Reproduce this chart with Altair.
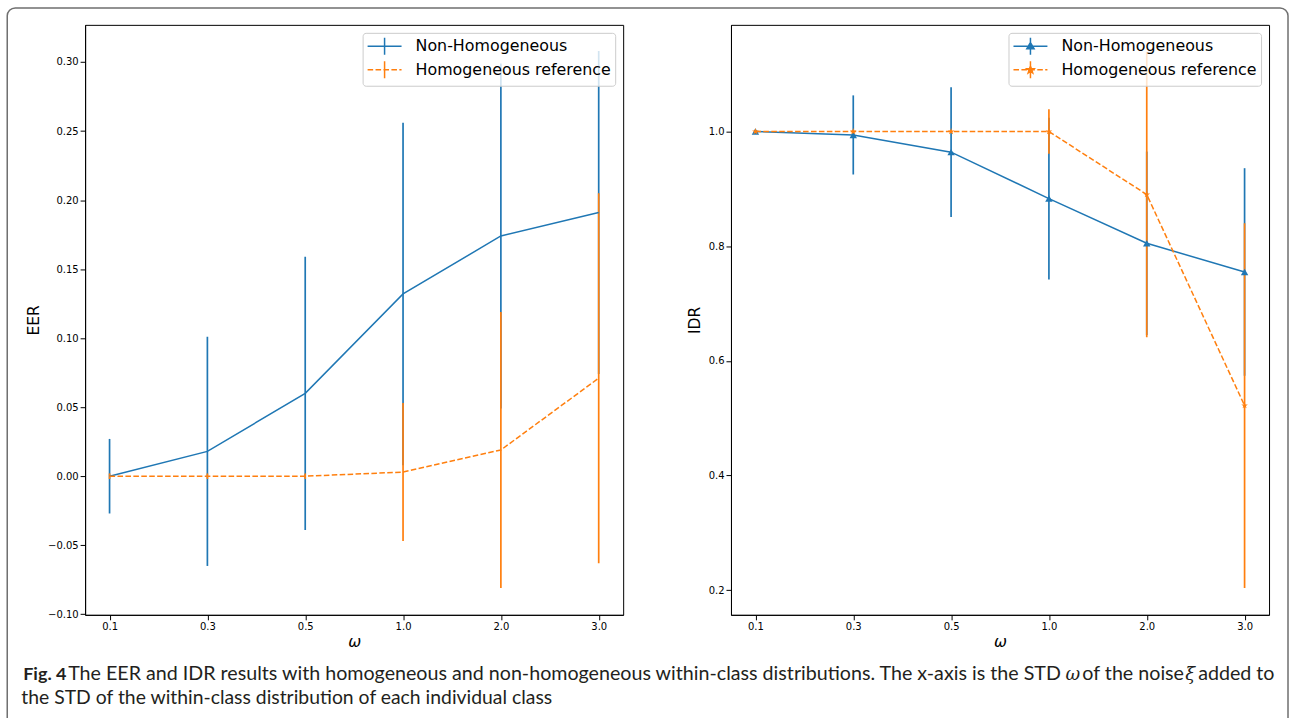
import json
import math
import altair as alt
import pandas as pd

# ---------------- data ----------------
omega_labels = ["0.1", "0.3", "0.5", "1.0", "2.0", "3.0"]
series_names = ["Non-Homogeneous", "Homogeneous reference"]

eer_nonhom = [0.000, 0.018, 0.060, 0.132, 0.174, 0.191]
eer_nonhom_err = [0.027, 0.083, 0.099, 0.124, 0.125, 0.117]
eer_hom = [0.000, 0.000, 0.000, 0.003, 0.019, 0.071]
eer_hom_err = [0.002, 0.002, 0.002, 0.050, 0.100, 0.134]

idr_nonhom = [1.000, 0.994, 0.964, 0.883, 0.805, 0.755]
idr_nonhom_err = [0.003, 0.069, 0.113, 0.141, 0.160, 0.181]
idr_hom = [1.000, 1.000, 1.000, 1.000, 0.890, 0.522]
idr_hom_err = [0.002, 0.002, 0.002, 0.039, 0.249, 0.318]

eer_ticks = [-0.10, -0.05, 0.00, 0.05, 0.10, 0.15, 0.20, 0.25, 0.30]
idr_ticks = [0.2, 0.4, 0.6, 0.8, 1.0]

caption_bold = "Fig. 4"
caption_a = ("The EER and IDR results with homogeneous and non-homogeneous within-class "
             "distributions. The x-axis is the STD")
caption_omega = "\u03c9"
caption_b = "of the noise"
caption_xi = "\u03be"
caption_c = "added to"
caption_line2 = "the STD of the within-class distribution of each individual class"

# ---------------- styles ----------------
BLUE = "#1f77b4"
ORANGE = "#ff7f0e"
DASH = [5.55, 2.4]
FONT = "DejaVu Sans"
CAP_FONT = "Lato"
CAP_SIZE = 19.7
CAP_COLOR = "#231f20"


def star_path(r, ri_ratio=0.4):
    pts = []
    for k in range(10):
        ang = math.radians(-90 + 36 * k)
        rr = r if k % 2 == 0 else r * ri_ratio
        pts.append((rr * math.cos(ang), rr * math.sin(ang)))
    return "M" + "L".join(f"{x:.3f},{y:.3f}" for x, y in pts) + "Z"


# legend glyphs (1 unit = 8.5 px): errorbar-style line with a vertical tick
TICK = "M0,-1V1"
SOLID = "M-2,0H2"
DASHED = "M-2,0H-1.347M-1.065,0H-0.412M-0.13,0H0.523M0.805,0H1.458M1.74,0H2"
TRI = "M0,-0.45L0.43,0.3L-0.43,0.3Z"
STAR_SMALL = star_path(0.45)
STAR_MARK = star_path(1.0)


def long_df(a, a_err, b, b_err):
    rows = []
    for name, vals, errs in ((series_names[0], a, a_err), (series_names[1], b, b_err)):
        for i, (v, e) in enumerate(zip(vals, errs)):
            rows.append({"series": name, "idx": i, "value": v, "lo": v - e, "hi": v + e})
    return pd.DataFrame(rows)


eer_df = long_df(eer_nonhom, eer_nonhom_err, eer_hom, eer_hom_err)
idr_df = long_df(idr_nonhom, idr_nonhom_err, idr_hom, idr_hom_err)

label_expr_x = json.dumps(omega_labels) + "[datum.value]"


def x_enc():
    return alt.X("idx:Q",
                 scale=alt.Scale(domain=[-0.25, 5.25], nice=False, zero=False),
                 axis=alt.Axis(values=list(range(len(omega_labels))), labelExpr=label_expr_x,
                               title="\u03c9", titleFontStyle="italic"))


def panel(df, ydomain, yticks, ylabel_expr, ytitle, legend_paths, markers):
    def y_enc(field):
        return alt.Y(f"{field}:Q",
                     scale=alt.Scale(domain=ydomain, nice=False, zero=False),
                     axis=alt.Axis(values=yticks, labelExpr=ylabel_expr, title=ytitle))

    base = alt.Chart(df)
    blue = base.transform_filter(alt.datum.series == series_names[0])
    orange = base.transform_filter(alt.datum.series == series_names[1])

    layers = []
    layers.append(blue.mark_rule(color=BLUE, strokeWidth=1.7).encode(x=x_enc(), y=y_enc("lo"), y2="hi:Q"))
    layers.append(orange.mark_rule(color=ORANGE, strokeWidth=1.7).encode(x=x_enc(), y=y_enc("lo"), y2="hi:Q"))
    layers.append(blue.mark_line(color=BLUE, strokeWidth=1.5).encode(x=x_enc(), y=y_enc("value")))
    if markers:
        layers.append(blue.mark_point(shape="triangle-up", filled=True, size=55, color=BLUE, opacity=1)
                      .encode(x=x_enc(), y=y_enc("value")))
    layers.append(orange.mark_line(color=ORANGE, strokeWidth=1.5, strokeDash=DASH)
                  .encode(x=x_enc(), y=y_enc("value")))
    if markers:
        layers.append(orange.mark_point(shape=STAR_MARK, filled=True, size=48, color=ORANGE, opacity=1)
                      .encode(x=x_enc(), y=y_enc("value")))

    col_scale = alt.Scale(domain=series_names, range=[BLUE, ORANGE])
    leg = alt.Legend(title=None)
    layers.append(
        base.transform_filter("false")
        .mark_point(filled=True, opacity=1, strokeWidth=1.5)
        .encode(
            fill=alt.Fill("series:N", scale=col_scale, legend=leg),
            stroke=alt.Stroke("series:N", scale=col_scale, legend=leg),
            shape=alt.Shape("series:N", scale=alt.Scale(domain=series_names, range=legend_paths), legend=leg),
        )
    )
    return layers


eer_label_expr = "replace(format(datum.value, '.2f'), '-', '\u2212')"
idr_label_expr = "format(datum.value, '.1f')"

left_layers = panel(eer_df, [-0.1004, 0.3269], eer_ticks, eer_label_expr, "EER",
                    [SOLID + TICK, DASHED + TICK], markers=False)
right_layers = panel(idr_df, [0.157, 1.186], idr_ticks, idr_label_expr, "IDR",
                     [SOLID + TICK + TRI, DASHED + TICK + STAR_SMALL], markers=True)


# page frame and caption (decoration, placed relative to the left panel's origin at (84, 23))
def cap_text(text, x, y, **kw):
    style = dict(align="left", baseline="alphabetic", font=CAP_FONT, fontSize=CAP_SIZE, color=CAP_COLOR)
    style.update(kw)
    return alt.Chart(pd.DataFrame({"t": [text]})).mark_text(**style).encode(
        x=alt.value(x), y=alt.value(y), text="t:N")


frame = alt.Chart(pd.DataFrame({"t": [0]})).mark_rect(
    fill="transparent", stroke="#6f6f6f", strokeWidth=1.5, cornerRadius=8
).encode(x=alt.value(-78), x2=alt.value(1205), y=alt.value(-17), y2=alt.value(718))

caption_layers = [
    cap_text(caption_bold, -62, 656, fontWeight="bold", fontSize=18),
    cap_text(caption_a, -17, 656),
    cap_text(caption_omega, 982, 656, font="DejaVu Serif", fontStyle="italic", fontSize=18),
    cap_text(caption_b, 999, 656),
    cap_text(caption_xi, 1102, 656, font="DejaVu Serif", fontStyle="italic", fontSize=18),
    cap_text(caption_c, 1115, 656),
    cap_text(caption_line2, -64, 680, fontSize=19.4),
]

left = alt.layer(frame, *left_layers, *caption_layers).properties(width=539, height=591)
right = alt.layer(*right_layers).properties(width=539, height=591)

chart = (
    alt.hconcat(left, right, spacing=108, bounds="flush")
    .resolve_scale(x="independent", y="independent", fill="independent", stroke="independent",
                   shape="independent")
    .properties(padding={"left": 5.25, "top": 5.25, "right": 0, "bottom": 0})
    .configure_view(stroke="black", strokeWidth=1)
    .configure_axis(domainColor="black", domainWidth=1, tickColor="black", tickWidth=1, tickSize=5,
                    labelFont=FONT, labelFontSize=10, labelColor="black", labelPadding=2, labelFlush=False,
                    grid=False, titleFont=FONT, titleFontSize=15.5, titleFontWeight="normal",
                    titleColor="black")
    .configure_axisY(titlePadding=6)
    .configure_axisX(titlePadding=3)
    .configure_legend(orient="top-right", offset=8, fillColor="rgba(255,255,255,0.8)",
                      strokeColor="#cccccc", strokeWidth=1, cornerRadius=3, padding=4,
                      labelFont=FONT, labelFontSize=15.9, labelColor="black", labelLimit=400,
                      labelOffset=21.5, rowPadding=0.5, symbolSize=289, symbolOffset=8.5,
                      symbolStrokeWidth=1.5)
)

chart.save("out.html", embed_options={"renderer": "svg", "actions": False})
